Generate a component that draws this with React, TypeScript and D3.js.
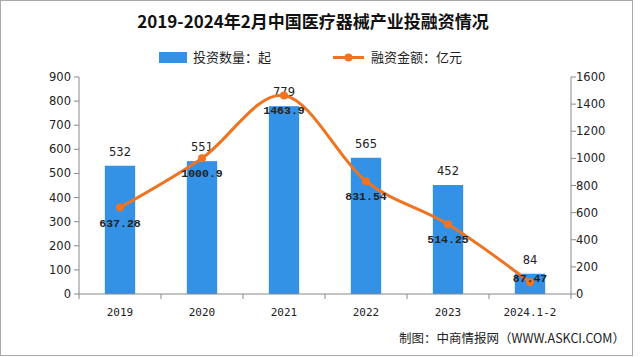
import React from "react";
import * as d3 from "d3";

const categories = ["2019", "2020", "2021", "2022", "2023", "2024.1-2"];
const dealCounts = [532, 551, 779, 565, 452, 84];
const amounts = [637.28, 1000.9, 1463.9, 831.54, 514.25, 87.47];
const amountLabels = ["637.28", "1000.9", "1463.9", "831.54", "514.25", "87.47"];
const leftTicks = [0, 100, 200, 300, 400, 500, 600, 700, 800, 900];
const rightTicks = [0, 200, 400, 600, 800, 1000, 1200, 1400, 1600];

const W = 640, H = 357;
const L = 79, R = 571, T = 77, B = 294;
const BLUE = "#3391E6";
const ORANGE = "#EE7422";
const CJK = "'Noto Sans CJK SC', sans-serif";

export default function App() {
  const x = d3.scaleBand<string>().domain(categories).range([L, R]).paddingInner(0).paddingOuter(0);
  const bw = x.bandwidth() * 0.37;
  const yL = d3.scaleLinear().domain([0, 900]).range([B, T]);
  const yR = d3.scaleLinear().domain([0, 1600]).range([B, T]);
  const cx = (c: string) => (x(c) as number) + x.bandwidth() / 2;
  const pts: [number, number][] = categories.map((c, i) => [cx(c), yR(amounts[i])]);
  const line = d3.line().curve(d3.curveCatmullRom.alpha(0))(pts) as string;

  return (
    <svg width={W} height={H} style={{ position: "absolute", left: 0, top: 0, background: "#fff" }}>
      <rect x={0.5} y={0.5} width={632} height={355} fill="#fff" stroke="#aaa" strokeWidth={1} />
      <text x={313} y={28} textAnchor="middle" fontFamily={CJK} fontWeight="bold" fontSize={17} fill="#111">
        2019-2024年2月中国医疗器械产业投融资情况
      </text>
      {/* legend */}
      <rect x={159} y={52} width={28} height={11} fill={BLUE} />
      <text x={193} y={62} fontFamily={CJK} fontSize={13} fill="#222">投资数量：起</text>
      <line x1={333} y1={57.5} x2={364} y2={57.5} stroke={ORANGE} strokeWidth={3} />
      <circle cx={348.5} cy={57.5} r={4} fill={ORANGE} />
      <text x={371} y={62} fontFamily={CJK} fontSize={13} fill="#222">融资金额：亿元</text>

      {/* bars */}
      {categories.map((c, i) => (
        <rect key={"b" + c} x={cx(c) - bw / 2} y={yL(dealCounts[i])} width={bw} height={B - yL(dealCounts[i])} fill={BLUE} />
      ))}
      {/* axes */}
      <line x1={L} y1={T} x2={L} y2={B} stroke="#888" />
      <line x1={R} y1={T} x2={R} y2={B} stroke="#888" />
      <line x1={L} y1={B} x2={R} y2={B} stroke="#888" />
      {leftTicks.map((t) => (
        <g key={"lt" + t}>
          <line x1={L - 5} x2={L} y1={yL(t)} y2={yL(t)} stroke="#888" />
          <text x={L - 8} y={yL(t) + 4} textAnchor="end" fontFamily="'DejaVu Sans', sans-serif" fontSize={11.5} fill="#222">{t}</text>
        </g>
      ))}
      {rightTicks.map((t) => (
        <g key={"rt" + t}>
          <line x1={R} x2={R + 5} y1={yR(t)} y2={yR(t)} stroke="#888" />
          <text x={R + 5} y={yR(t) + 4} textAnchor="start" fontFamily="'DejaVu Sans', sans-serif" fontSize={11.5} fill="#222">{t}</text>
        </g>
      ))}
      {[...categories.map((c) => x(c) as number), R].map((v, i) => (
        <line key={"xt" + i} x1={v} x2={v} y1={B} y2={B + 5} stroke="#888" />
      ))}
      {categories.map((c) => (
        <text key={"xl" + c} x={cx(c)} y={316} textAnchor="middle" fontFamily="'DejaVu Sans Mono', monospace" fontSize={11} fill="#222">{c}</text>
      ))}
      {/* bar labels */}
      {categories.map((c, i) => (
        <text key={"bl" + c} x={cx(c)} y={Math.min(yL(dealCounts[i]) - 10, B - 25)} textAnchor="middle" fontFamily="'DejaVu Sans', sans-serif" fontSize={11.5} fill="#222">{dealCounts[i]}</text>
      ))}
      {/* line */}
      <path d={line} fill="none" stroke={ORANGE} strokeWidth={3} />
      {pts.map(([px, py], i) => (
        <circle key={"p" + i} cx={px} cy={py} r={4} fill={ORANGE} />
      ))}
      {pts.map(([px, py], i) => (
        <text key={"al" + i} x={px} y={Math.min(py + 19, B - 12)} textAnchor="middle" fontFamily="'Liberation Mono', monospace" fontWeight="bold" fontSize={11.5} fill="#222">{amountLabels[i]}</text>
      ))}
      <text x={625} y={343} textAnchor="end" fontFamily={CJK} fontSize={12.5} fill="#222">制图：中商情报网（WWW.ASKCI.COM）</text>
    </svg>
  );
}
